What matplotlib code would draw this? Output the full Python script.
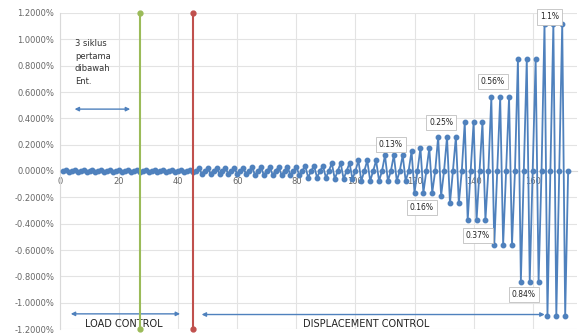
import matplotlib.pyplot as plt
import numpy as np
from matplotlib.ticker import FuncFormatter, MultipleLocator

# cyclic protocol: each cycle is 0 -> +peak -> -peak (drift ratio, %)
peak_pos = [0.01, 0.02, 0.03, 0.04, 0.06, 0.08, 0.12, 0.15, 0.175,
            0.26, 0.26, 0.37, 0.56, 0.85, 1.12]
peak_neg = [-0.01, -0.02, -0.03, -0.05, -0.06, -0.075, -0.075, -0.165, -0.165,
            -0.19, -0.245, -0.375, -0.56, -0.84, -1.10]
n_cycles = [15, 6, 6, 3, 3, 3, 3, 1, 2, 1, 2, 3, 3, 3, 3]

green_x = 27
red_x = 45
y_range = [-1.2, 1.2]

top_labels = ["0.13%", "0.25%", "0.56%", "1.1%"]
top_label_pos = [(112, 0.20), (129, 0.37), (146.5, 0.68), (165.8, 1.17)]
bot_labels = ["0.16%", "0.37%", "0.84%"]
bot_label_pos = [(122.5, -0.28), (141.4, -0.49), (157, -0.94)]

drift = []
for p, n, c in zip(peak_pos, peak_neg, n_cycles):
    drift += [0, p, n] * c
drift.append(0)
step = np.arange(1, len(drift) + 1)

blue = '#4F81BD'
fig = plt.figure(figsize=(5.82, 3.34), dpi=100)
ax = fig.add_axes([60/582, 5/334, 517/582, 316/334])

ax.plot(step, drift, color=blue, lw=1.3, marker='o', ms=3.2, zorder=3)
ax.plot([green_x, green_x], y_range, color='#9BBB59', lw=1.5, marker='o', ms=3.5,
        zorder=4, clip_on=False)
ax.plot([red_x, red_x], y_range, color='#C0504D', lw=1.5, marker='o', ms=3.5,
        zorder=4, clip_on=False)

ax.set_xlim(0, 175)
ax.set_ylim(-1.2, 1.2)
ax.xaxis.set_major_locator(MultipleLocator(20))
ax.yaxis.set_major_locator(MultipleLocator(0.2))
ax.yaxis.set_major_formatter(FuncFormatter(lambda v, _: '{:.4f}%'.format(v)))
ax.grid(True, color='#e3e3e3', lw=0.8)
ax.set_axisbelow(True)

for s in ['top', 'right']:
    ax.spines[s].set_visible(False)
ax.spines['left'].set_color('#d9d9d9')
ax.spines['bottom'].set_position(('data', 0))
ax.spines['bottom'].set_color('#d9d9d9')
ax.tick_params(length=0, labelsize=6, colors='#666666', pad=4)

# annotations
arrow = dict(arrowstyle='<|-|>', color=blue, lw=1, mutation_scale=6)
ax.annotate('', xy=(4, 0.47), xytext=(24.7, 0.47), arrowprops=arrow)
ax.text(5, 1.0, '3 siklus\npertama\ndibawah\nEnt.', fontsize=6, va='top',
        linespacing=1.5, color='#333333')
ax.annotate('', xy=(2.7, -1.085), xytext=(41.6, -1.085), arrowprops=arrow)
ax.annotate('', xy=(47, -1.09), xytext=(165, -1.09), arrowprops=arrow)
ax.text(21.5, -1.16, 'LOAD CONTROL', fontsize=7, ha='center', va='center',
        color='#222222')
ax.text(103.5, -1.16, 'DISPLACEMENT CONTROL', fontsize=7, ha='center',
        va='center', color='#222222')

box = dict(boxstyle='square,pad=0.4', fc='white', ec='#bfbfbf', lw=0.6)
for lab, (x, y) in zip(top_labels + bot_labels, top_label_pos + bot_label_pos):
    ax.text(x, y, lab, fontsize=5.5, ha='center', va='center', bbox=box,
            zorder=5, color='#222222')

fig.savefig('out.png', dpi=100)
